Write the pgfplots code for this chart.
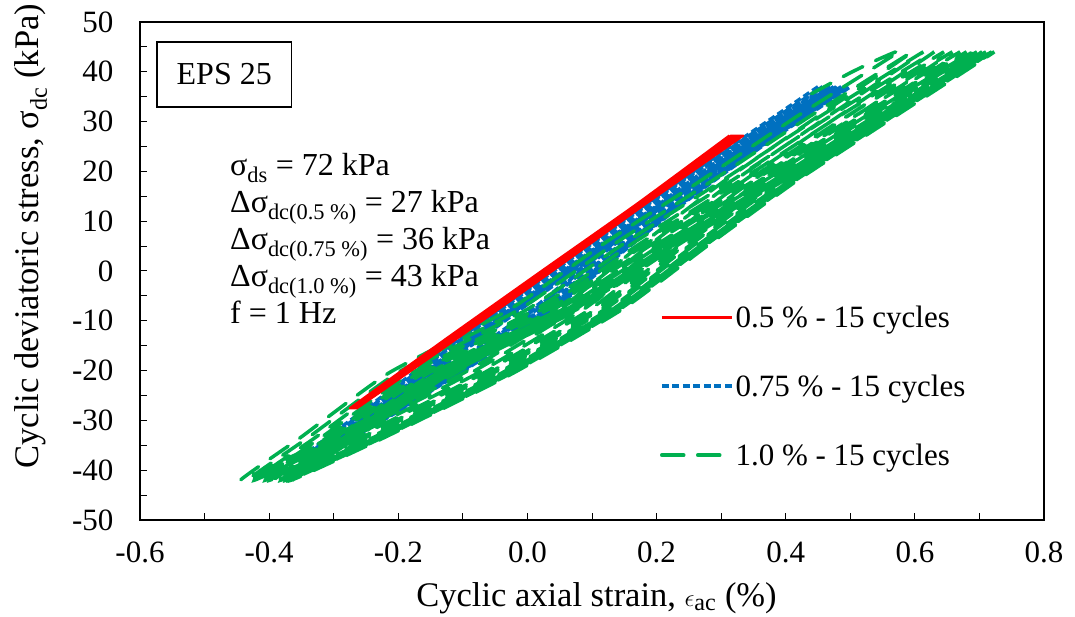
\documentclass[border=0pt]{standalone}
\usepackage{fontspec}
\setmainfont{Liberation Serif}
\usepackage{pgfplots}
\pgfplotsset{compat=1.18}
\definecolor{cred}{RGB}{255,0,0}
\definecolor{cblue}{RGB}{0,112,192}
\definecolor{cgreen}{RGB}{0,176,80}
\begin{document}
\begin{tikzpicture}
\useasboundingbox (-140pt,-96pt) rectangle (935pt,520pt);
\begin{axis}[
  at={(0pt,0pt)}, anchor=south west,
  scale only axis, width=904pt, height=498pt,
  xmin=-0.6, xmax=0.8, ymin=-50, ymax=50,
  xtick={-0.6,-0.4,-0.2,0,0.2,0.4,0.6,0.8},
  minor xtick={-0.5,-0.3,-0.1,0.1,0.3,0.5,0.7},
  ytick={-50,-40,-30,-20,-10,0,10,20,30,40,50},
  minor ytick={-45,-35,-25,-15,-5,5,15,25,35,45},
  tick align=inside, tick pos=left,
  major tick length=7pt, minor tick length=7pt,
  tick style={black, line width=1pt},
  axis line style={black, line width=1.6pt},
  tick label style={font=\fontsize{31}{36}\selectfont},
  xticklabel style={/pgf/number format/.cd, fixed, fixed zerofill, precision=1, assume math mode=true, /tikz/.cd, anchor=north, yshift=-18pt},
  yticklabel style={/pgf/number format/assume math mode=true, /tikz/.cd, anchor=east, xshift=-23pt},
  label style={font=\fontsize{34.5}{40}\selectfont},
  xlabel={Cyclic axial strain, $\epsilon$\textsubscript{ac} (\%)},
  ylabel={Cyclic deviatoric stress, σ\textsubscript{dc} (kPa)},
  xlabel style={at={(axis description cs:0.505,-0.157)}, anchor=center},
  ylabel style={at={(axis description cs:-0.1206,0.57)}, anchor=center},
  legend style={at={(axis description cs:0.575,0.435)}, anchor=north west, draw=none, fill=none, inner sep=0pt, row sep=42pt, font=\fontsize{31}{36}\selectfont},
  legend cell align=left,
  legend image code/.code={\draw[#1] (0pt,0pt) -- (70pt,0pt);},
]
% 0.75 % - 15 cycles
\addplot[forget plot, cblue, line width=3.5pt, dash pattern=on 7pt off 3.5pt, smooth, tension=0.3] coordinates {
(0.45,37)
(0.327,26.1) (0.202,15.1) (0.082,4.2) (-0.035,-6.8) (-0.149,-17.8) (-0.261,-28.7) (-0.335,-36)
(-0.237,-28.7) (-0.103,-17.8) (0.016,-6.8) (0.116,4.2) (0.221,15.1) (0.338,26.1) (0.457,37)
(0.331,26.1) (0.206,15.1) (0.086,4.2) (-0.031,-6.8) (-0.145,-17.8) (-0.257,-28.7) (-0.331,-36)
(-0.233,-28.7) (-0.099,-17.8) (0.020,-6.8) (0.120,4.2) (0.225,15.1) (0.342,26.1) (0.463,37)
(0.335,26.1) (0.210,15.1) (0.090,4.2) (-0.027,-6.8) (-0.141,-17.8) (-0.253,-28.7) (-0.327,-36)
(-0.229,-28.7) (-0.095,-17.8) (0.024,-6.8) (0.124,4.2) (0.229,15.1) (0.346,26.1) (0.469,37)
(0.346,26.1) (0.220,15.1) (0.098,4.2) (-0.020,-6.8) (-0.136,-17.8) (-0.249,-28.7) (-0.324,-36)
(-0.225,-28.7) (-0.090,-17.8) (0.031,-6.8) (0.133,4.2) (0.239,15.1) (0.357,26.1) (0.474,37)
(0.349,26.1) (0.223,15.1) (0.101,4.2) (-0.017,-6.8) (-0.133,-17.8) (-0.246,-28.7) (-0.321,-36)
(-0.222,-28.7) (-0.087,-17.8) (0.034,-6.8) (0.136,4.2) (0.242,15.1) (0.360,26.1) (0.478,37)
(0.352,26.1) (0.226,15.1) (0.104,4.2) (-0.014,-6.8) (-0.130,-17.8) (-0.243,-28.7) (-0.318,-36)
(-0.219,-28.7) (-0.084,-17.8) (0.037,-6.8) (0.139,4.2) (0.245,15.1) (0.363,26.1) (0.482,37)
(0.354,26.1) (0.228,15.1) (0.106,4.2) (-0.012,-6.8) (-0.128,-17.8) (-0.241,-28.7) (-0.316,-36)
(-0.217,-28.7) (-0.082,-17.8) (0.039,-6.8) (0.141,4.2) (0.247,15.1) (0.365,26.1) (0.486,37)
(0.356,26.1) (0.230,15.1) (0.108,4.2) (-0.010,-6.8) (-0.126,-17.8) (-0.239,-28.7) (-0.314,-36)
(-0.215,-28.7) (-0.080,-17.8) (0.041,-6.8) (0.143,4.2) (0.249,15.1) (0.367,26.1) (0.489,37)
(0.358,26.1) (0.232,15.1) (0.110,4.2) (-0.008,-6.8) (-0.124,-17.8) (-0.237,-28.7) (-0.312,-36)
(-0.213,-28.7) (-0.078,-17.8) (0.043,-6.8) (0.145,4.2) (0.251,15.1) (0.369,26.1) (0.491,37)
(0.360,26.1) (0.234,15.1) (0.112,4.2) (-0.006,-6.8) (-0.122,-17.8) (-0.235,-28.7) (-0.310,-36)
(-0.211,-28.7) (-0.076,-17.8) (0.045,-6.8) (0.147,4.2) (0.253,15.1) (0.371,26.1) (0.494,37)
(0.361,26.1) (0.235,15.1) (0.113,4.2) (-0.005,-6.8) (-0.121,-17.8) (-0.234,-28.7) (-0.309,-36)
(-0.210,-28.7) (-0.075,-17.8) (0.046,-6.8) (0.148,4.2) (0.254,15.1) (0.372,26.1) (0.496,37)
(0.362,26.1) (0.236,15.1) (0.114,4.2) (-0.004,-6.8) (-0.120,-17.8) (-0.233,-28.7) (-0.308,-36)
(-0.209,-28.7) (-0.074,-17.8) (0.047,-6.8) (0.149,4.2) (0.255,15.1) (0.373,26.1) (0.497,37)
(0.363,26.1) (0.237,15.1) (0.115,4.2) (-0.003,-6.8) (-0.119,-17.8) (-0.232,-28.7) (-0.307,-36)
(-0.208,-28.7) (-0.073,-17.8) (0.048,-6.8) (0.150,4.2) (0.256,15.1) (0.374,26.1) (0.499,37)
(0.364,26.1) (0.238,15.1) (0.116,4.2) (-0.002,-6.8) (-0.118,-17.8) (-0.231,-28.7) (-0.306,-36)
(-0.207,-28.7) (-0.072,-17.8) (0.049,-6.8) (0.151,4.2) (0.257,15.1) (0.375,26.1) (0.500,37)
(0.365,26.1) (0.239,15.1) (0.117,4.2) (-0.001,-6.8) (-0.117,-17.8) (-0.230,-28.7) (-0.305,-36)
};
% 1.0 % - 15 cycles
\addplot[forget plot, cgreen, line width=3.5pt, line cap=round, dash pattern=on 22pt off 14pt, smooth, tension=0.3] coordinates {
(0.44,35.6) (0.5,39.8) (0.545,42.6) (0.575,44)
(0.418,31.1) (0.269,18.2) (0.116,5.3) (-0.026,-7.6) (-0.215,-20.5) (-0.351,-33.4) (-0.444,-42)
(-0.304,-33.4) (-0.112,-20.5) (0.050,-7.6) (0.176,5.3) (0.306,18.2) (0.450,31.1) (0.596,44)
(0.438,31.1) (0.287,18.2) (0.133,5.3) (-0.011,-7.6) (-0.202,-20.5) (-0.339,-33.4) (-0.433,-42)
(-0.292,-33.4) (-0.099,-20.5) (0.063,-7.6) (0.190,5.3) (0.321,18.2) (0.466,31.1) (0.613,44)
(0.454,31.1) (0.302,18.2) (0.147,5.3) (0.001,-7.6) (-0.190,-20.5) (-0.328,-33.4) (-0.423,-42)
(-0.282,-33.4) (-0.088,-20.5) (0.076,-7.6) (0.204,5.3) (0.336,18.2) (0.482,31.1) (0.630,44)
(0.469,31.1) (0.317,18.2) (0.160,5.3) (0.014,-7.6) (-0.179,-20.5) (-0.319,-33.4) (-0.414,-42)
(-0.272,-33.4) (-0.077,-20.5) (0.088,-7.6) (0.216,5.3) (0.349,18.2) (0.496,31.1) (0.645,44)
(0.483,31.1) (0.330,18.2) (0.172,5.3) (0.024,-7.6) (-0.169,-20.5) (-0.310,-33.4) (-0.406,-42)
(-0.264,-33.4) (-0.068,-20.5) (0.098,-7.6) (0.227,5.3) (0.361,18.2) (0.508,31.1) (0.658,44)
(0.495,31.1) (0.341,18.2) (0.182,5.3) (0.034,-7.6) (-0.161,-20.5) (-0.302,-33.4) (-0.399,-42)
(-0.256,-33.4) (-0.060,-20.5) (0.107,-7.6) (0.237,5.3) (0.371,18.2) (0.520,31.1) (0.670,44)
(0.507,31.1) (0.351,18.2) (0.192,5.3) (0.042,-7.6) (-0.153,-20.5) (-0.296,-33.4) (-0.393,-42)
(-0.250,-33.4) (-0.053,-20.5) (0.114,-7.6) (0.245,5.3) (0.380,18.2) (0.529,31.1) (0.680,44)
(0.516,31.1) (0.360,18.2) (0.200,5.3) (0.050,-7.6) (-0.146,-20.5) (-0.289,-33.4) (-0.387,-42)
(-0.243,-33.4) (-0.046,-20.5) (0.121,-7.6) (0.253,5.3) (0.388,18.2) (0.538,31.1) (0.689,44)
(0.524,31.1) (0.368,18.2) (0.207,5.3) (0.056,-7.6) (-0.140,-20.5) (-0.284,-33.4) (-0.382,-42)
(-0.238,-33.4) (-0.040,-20.5) (0.127,-7.6) (0.259,5.3) (0.395,18.2) (0.544,31.1) (0.696,44)
(0.531,31.1) (0.374,18.2) (0.213,5.3) (0.062,-7.6) (-0.135,-20.5) (-0.280,-33.4) (-0.378,-42)
(-0.234,-33.4) (-0.035,-20.5) (0.133,-7.6) (0.265,5.3) (0.401,18.2) (0.552,31.1) (0.704,44)
(0.538,31.1) (0.381,18.2) (0.219,5.3) (0.067,-7.6) (-0.130,-20.5) (-0.275,-33.4) (-0.374,-42)
(-0.230,-33.4) (-0.031,-20.5) (0.138,-7.6) (0.270,5.3) (0.407,18.2) (0.557,31.1) (0.710,44)
(0.544,31.1) (0.386,18.2) (0.224,5.3) (0.071,-7.6) (-0.127,-20.5) (-0.272,-33.4) (-0.371,-42)
(-0.226,-33.4) (-0.028,-20.5) (0.141,-7.6) (0.274,5.3) (0.411,18.2) (0.561,31.1) (0.714,44)
(0.548,31.1) (0.389,18.2) (0.227,5.3) (0.074,-7.6) (-0.124,-20.5) (-0.270,-33.4) (-0.369,-42)
(-0.224,-33.4) (-0.025,-20.5) (0.144,-7.6) (0.277,5.3) (0.415,18.2) (0.566,31.1) (0.719,44)
(0.552,31.1) (0.394,18.2) (0.231,5.3) (0.078,-7.6) (-0.121,-20.5) (-0.266,-33.4) (-0.366,-42)
(-0.221,-33.4) (-0.022,-20.5) (0.148,-7.6) (0.281,5.3) (0.418,18.2) (0.570,31.1) (0.723,44)
(0.556,31.1) (0.397,18.2) (0.234,5.3) (0.081,-7.6) (-0.118,-20.5) (-0.264,-33.4) (-0.364,-42)
};
% 0.5 % - 15 cycles
\addplot[forget plot, cred, line width=2.5pt, smooth, tension=0.3, line join=round] coordinates {
(0.313,27.2)
(0.170,13.5) (0.020,-0.2) (-0.129,-13.9) (-0.275,-27.6)
(-0.123,-13.9) (0.026,-0.2) (0.173,13.5) (0.316,27.2)
(0.171,13.5) (0.021,-0.2) (-0.128,-13.9) (-0.274,-27.6)
(-0.122,-13.9) (0.027,-0.2) (0.174,13.5) (0.318,27.2)
(0.173,13.5) (0.023,-0.2) (-0.126,-13.9) (-0.272,-27.6)
(-0.120,-13.9) (0.029,-0.2) (0.176,13.5) (0.321,27.2)
(0.174,13.5) (0.024,-0.2) (-0.125,-13.9) (-0.271,-27.6)
(-0.119,-13.9) (0.030,-0.2) (0.177,13.5) (0.323,27.2)
(0.175,13.5) (0.025,-0.2) (-0.124,-13.9) (-0.270,-27.6)
(-0.118,-13.9) (0.031,-0.2) (0.178,13.5) (0.325,27.2)
(0.176,13.5) (0.026,-0.2) (-0.123,-13.9) (-0.269,-27.6)
(-0.117,-13.9) (0.032,-0.2) (0.179,13.5) (0.326,27.2)
(0.176,13.5) (0.026,-0.2) (-0.123,-13.9) (-0.269,-27.6)
(-0.117,-13.9) (0.032,-0.2) (0.179,13.5) (0.328,27.2)
(0.177,13.5) (0.027,-0.2) (-0.122,-13.9) (-0.268,-27.6)
(-0.116,-13.9) (0.033,-0.2) (0.180,13.5) (0.329,27.2)
(0.178,13.5) (0.028,-0.2) (-0.121,-13.9) (-0.267,-27.6)
(-0.115,-13.9) (0.034,-0.2) (0.181,13.5) (0.330,27.2)
(0.178,13.5) (0.028,-0.2) (-0.121,-13.9) (-0.267,-27.6)
(-0.115,-13.9) (0.034,-0.2) (0.181,13.5) (0.331,27.2)
(0.179,13.5) (0.029,-0.2) (-0.120,-13.9) (-0.266,-27.6)
(-0.114,-13.9) (0.035,-0.2) (0.182,13.5) (0.332,27.2)
(0.179,13.5) (0.029,-0.2) (-0.120,-13.9) (-0.266,-27.6)
(-0.114,-13.9) (0.035,-0.2) (0.182,13.5) (0.333,27.2)
(0.180,13.5) (0.030,-0.2) (-0.119,-13.9) (-0.266,-27.6)
(-0.114,-13.9) (0.035,-0.2) (0.182,13.5) (0.333,27.2)
(0.180,13.5) (0.030,-0.2) (-0.119,-13.9) (-0.265,-27.6)
(-0.113,-13.9) (0.036,-0.2) (0.183,13.5) (0.334,27.2)
(0.180,13.5) (0.030,-0.2) (-0.119,-13.9) (-0.265,-27.6)
};
% legend in the reference order
\addlegendimage{cred, line width=3pt}
\addlegendentry{0.5 \% - 15 cycles}
\addlegendimage{cblue, line width=3.5pt, dash pattern=on 7pt off 3.5pt}
\addlegendentry{0.75 \% - 15 cycles}
\addlegendimage{cgreen, line width=3.5pt, line cap=round, dash pattern=on 22pt off 14pt}
\addlegendentry{1.0 \% - 15 cycles}
% annotations
\draw[black, line width=1.5pt] (axis cs:-0.574,46) rectangle (axis cs:-0.365,32.9);
\node[font=\fontsize{32}{38}\selectfont] at (axis cs:-0.4695,39.45) {EPS 25};
\node[anchor=base west, inner sep=0pt, font=\fontsize{32}{38}\selectfont] at (axis cs:-0.4606,19.08) {σ\textsubscript{ds} = 72 kPa};
\node[anchor=base west, inner sep=0pt, font=\fontsize{32}{38}\selectfont] at (axis cs:-0.4606,11.65) {Δσ\textsubscript{dc(0.5 \%)} = 27 kPa};
\node[anchor=base west, inner sep=0pt, font=\fontsize{32}{38}\selectfont] at (axis cs:-0.4606,4.22) {Δσ\textsubscript{dc(0.75 \%)} = 36 kPa};
\node[anchor=base west, inner sep=0pt, font=\fontsize{32}{38}\selectfont] at (axis cs:-0.4606,-3.21) {Δσ\textsubscript{dc(1.0 \%)} = 43 kPa};
\node[anchor=base west, inner sep=0pt, font=\fontsize{32}{38}\selectfont] at (axis cs:-0.4606,-10.64) {f = 1 Hz};
\end{axis}
\end{tikzpicture}
\end{document}
